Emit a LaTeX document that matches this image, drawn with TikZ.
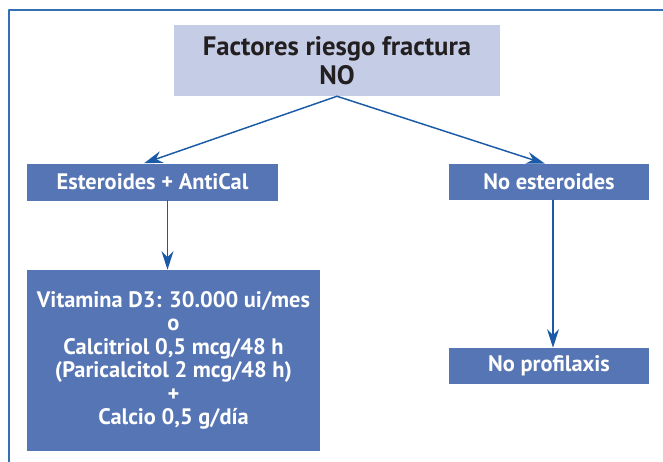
\documentclass[tikz,border=0pt]{standalone}
\usepackage{fontspec}
\setmainfont{PT Sans}
\usetikzlibrary{arrows.meta}
\definecolor{lila}{RGB}{197,204,230}
\definecolor{azul}{RGB}{86,117,180}
\definecolor{linea}{RGB}{26,90,166}
\definecolor{marco}{RGB}{52,112,180}
\definecolor{negro}{RGB}{35,31,32}

\begin{document}
\begin{tikzpicture}[line cap=round,line join=round,x=0.75pt,y=-0.75pt,
    caja/.style={fill=azul,text=white,inner sep=0pt,align=center,
        font=\bfseries\fontsize{16.8}{17.6}\selectfont},
    titulo/.style={fill=lila,text=negro,inner sep=0pt,align=center,
        font=\bfseries\fontsize{20}{21.75}\selectfont},
    flecha/.style={draw=linea,line width=1.1pt,
        -{Stealth[length=14pt,width=9pt,inset=4.5pt]}}]

    \useasboundingbox (0,0) rectangle (663,461);
    %\draw [step=50] (0,0) grid (663,461);
    \draw [marco, line width=1.3pt] (9,470) -- (9,10) -- (670,10);

    \node[titulo, minimum width=244.5pt, minimum height=53.25pt] (riesgo) at (337,60.5)
        {Factores riesgo fractura\\NO};

    \node[caja, minimum width=188.25pt, minimum height=27.75pt] (ester) at (152.5,182)
        {Esteroides + AntiCal};
    \node[caja, minimum width=150pt, minimum height=27pt] (noester) at (549,182)
        {No esteroides};

    \node[caja, minimum width=219.75pt, minimum height=135.75pt] (vitd) at (173.5,360.5)
        {Vitamina D3: 30.000 ui/mes\\o\\Calcitriol 0,5 mcg/48 h\\(Paricalcitol 2 mcg/48 h)\\+\\Calcio 0,5 g/día};
    \node[caja, minimum width=150pt, minimum height=27pt] (noprof) at (549,366)
        {No profilaxis};

    \draw[flecha] (riesgo.south) -- ([xshift=-6.4pt]ester.north);
    \draw[flecha] (riesgo.south) -- ([xshift=-3pt]noester.north);

    \draw[flecha] ([xshift=11.25pt]ester.south) -- ([xshift=11.25pt]ester.south |- vitd.north);
    \draw[flecha] ([xshift=3pt]noester.south) -- ([xshift=3pt]noester.south |- noprof.north);
\end{tikzpicture}
\end{document}
